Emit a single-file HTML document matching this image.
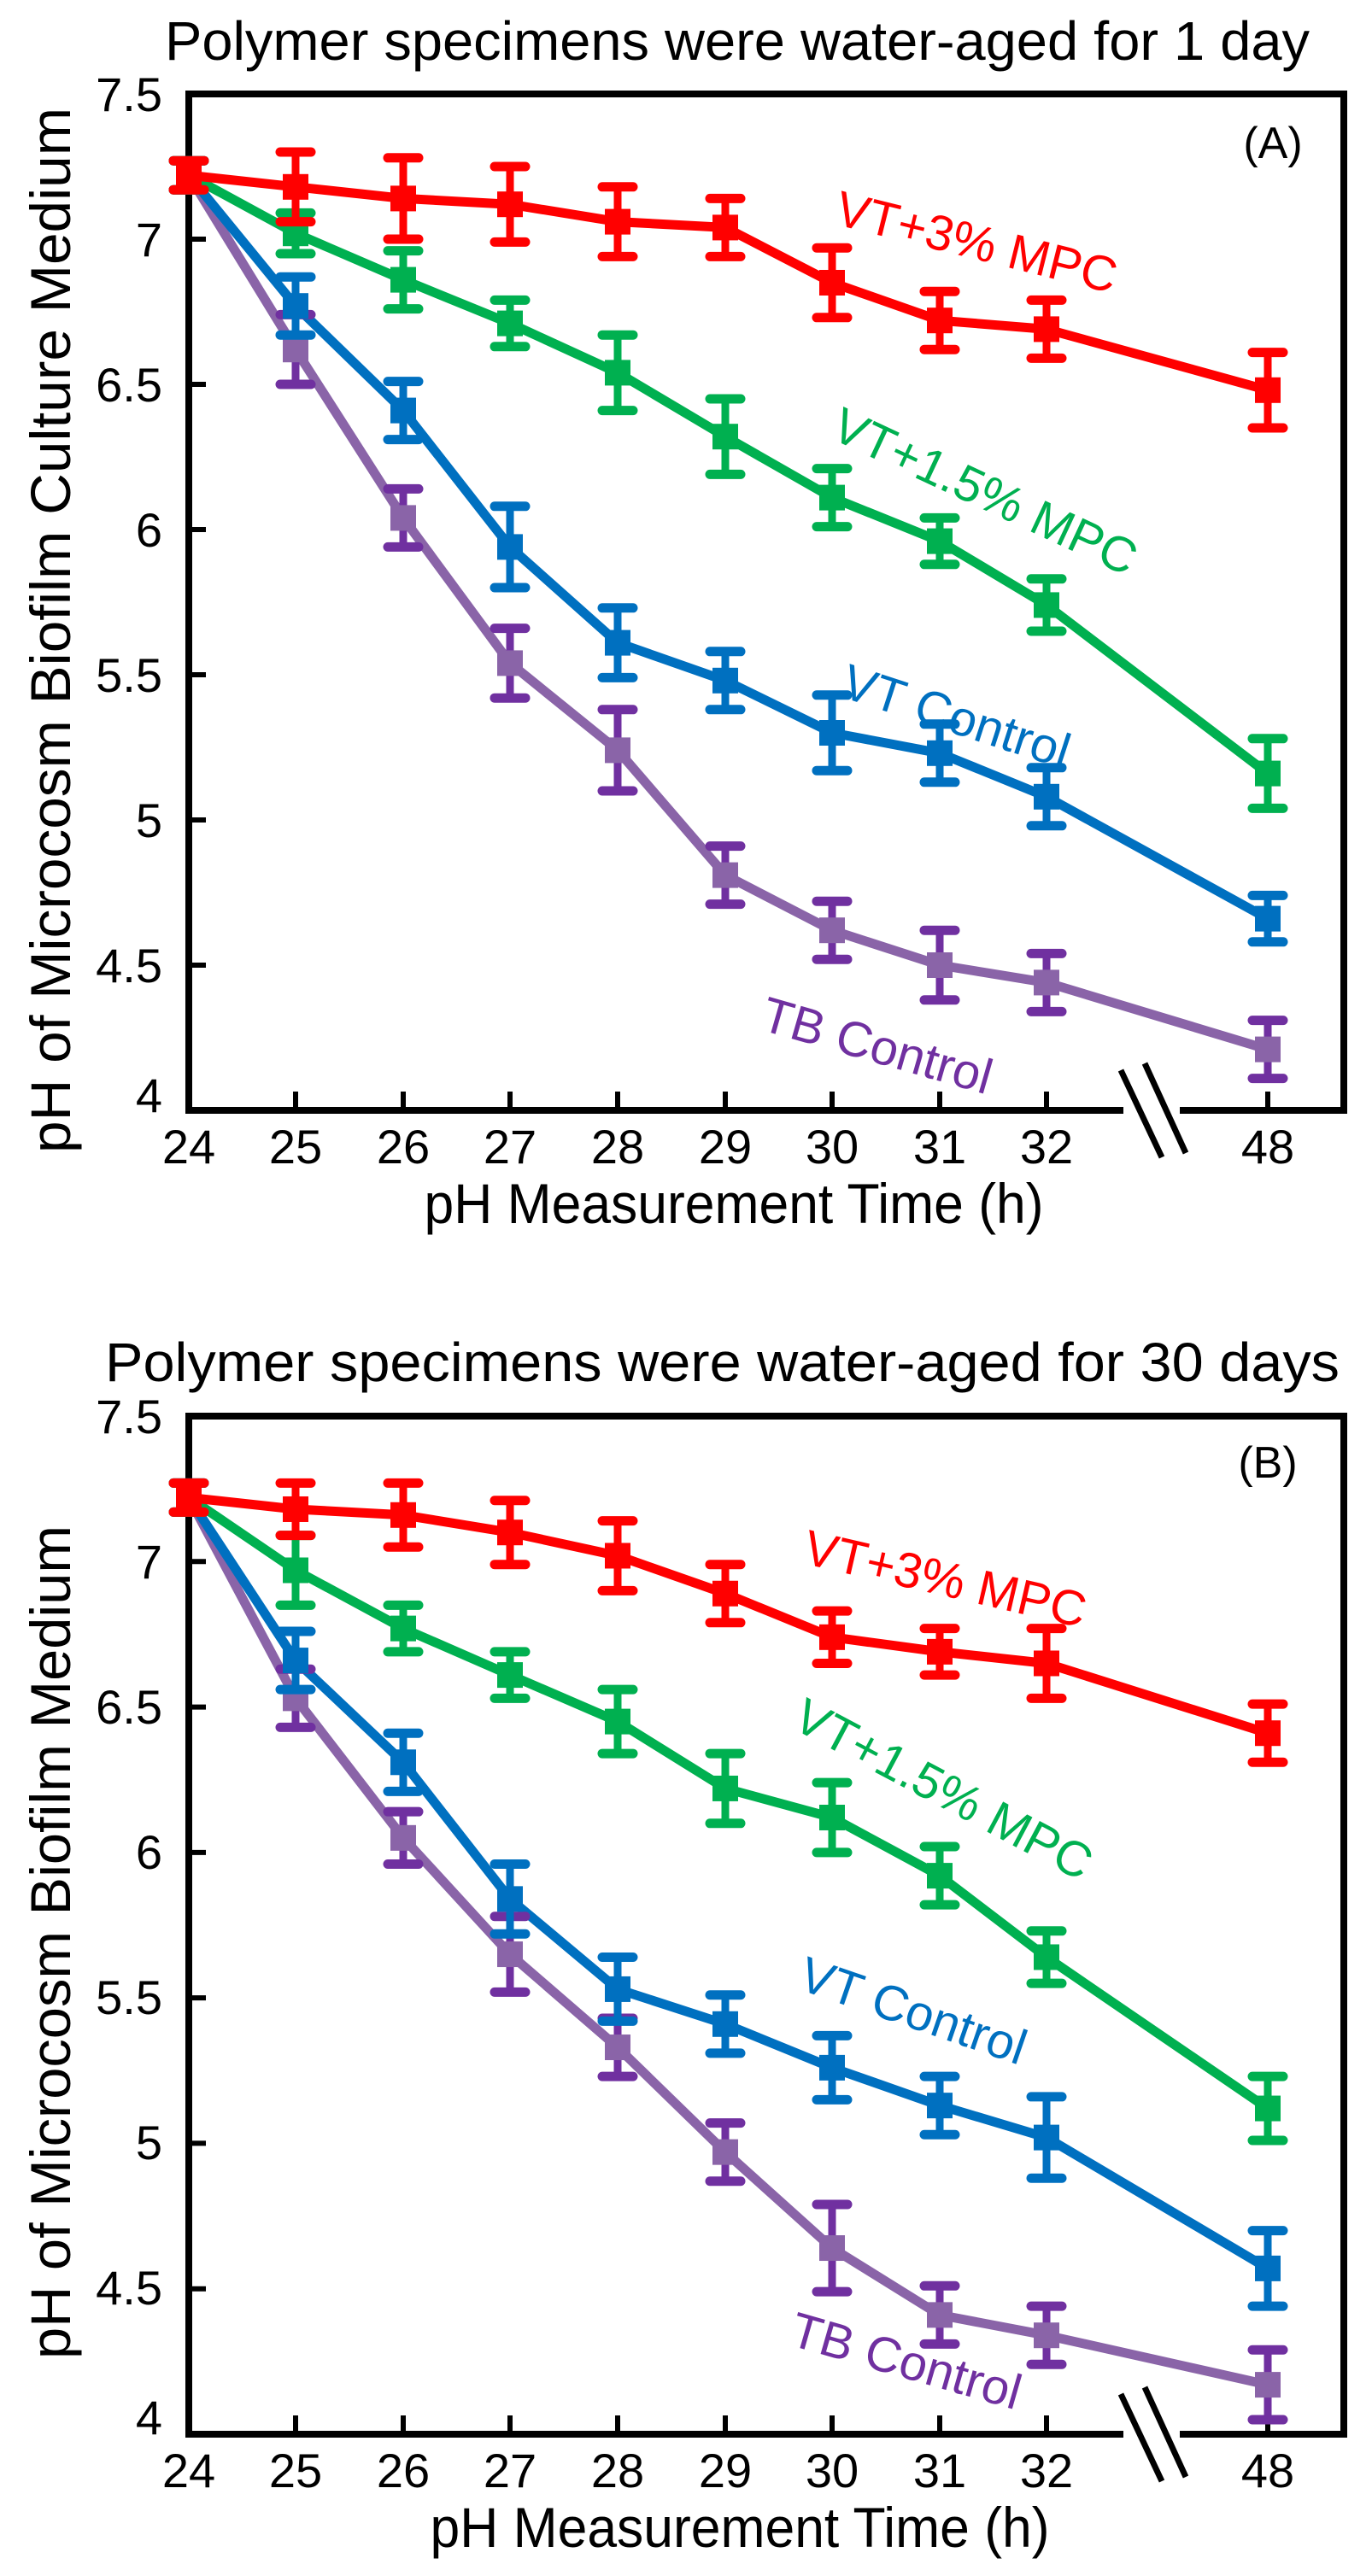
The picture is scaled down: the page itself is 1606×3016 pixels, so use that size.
<!DOCTYPE html>
<html><head><meta charset="utf-8"><style>
html,body{margin:0;padding:0;background:#fff}
svg{display:block}
text{font-family:"Liberation Sans",Arial,sans-serif}
</style></head><body>
<svg id="s" width="1606" height="3016" viewBox="0 0 1606 3016" xmlns="http://www.w3.org/2000/svg">
<g id="A" fill="#000">
<text x="193" y="70" font-size="64" textLength="1340" lengthAdjust="spacingAndGlyphs">Polymer specimens were water-aged for 1 day</text>
<text transform="translate(82,738) rotate(-90)" text-anchor="middle" font-size="66" textLength="1224" lengthAdjust="spacingAndGlyphs">pH of Microcosm Biofilm Culture Medium</text>
<text x="1490" y="185" text-anchor="middle" font-size="52">(A)</text>
<text x="859" y="1432" text-anchor="middle" font-size="66" textLength="725" lengthAdjust="spacingAndGlyphs">pH Measurement Time (h)</text>
<text transform="translate(975,262) rotate(14)" font-size="58" style="fill:#ff0000">VT+3% MPC</text>
<text transform="translate(970,512) rotate(25)" font-size="58" style="fill:#00b050">VT+1.5% MPC</text>
<text transform="translate(982,815) rotate(18)" font-size="58" style="fill:#0070c0">VT Control</text>
<text transform="translate(888,1205) rotate(16)" font-size="58" style="fill:#7030a0">TB Control</text>
</g>
<g id="B" fill="#000">
<text x="123" y="1617" font-size="64" textLength="1445" lengthAdjust="spacingAndGlyphs">Polymer specimens were water-aged for 30 days</text>
<text transform="translate(82,2274) rotate(-90)" text-anchor="middle" font-size="66" textLength="976" lengthAdjust="spacingAndGlyphs">pH of Microcosm Biofilm Medium</text>
<text x="1484" y="1730" text-anchor="middle" font-size="52">(B)</text>
<text x="866" y="2982" text-anchor="middle" font-size="66" textLength="725" lengthAdjust="spacingAndGlyphs">pH Measurement Time (h)</text>
<text transform="translate(938,1830) rotate(13)" font-size="58" style="fill:#ff0000">VT+3% MPC</text>
<text transform="translate(925,2022) rotate(28)" font-size="58" style="fill:#00b050">VT+1.5% MPC</text>
<text transform="translate(932,2328) rotate(19)" font-size="58" style="fill:#0070c0">VT Control</text>
<text transform="translate(922,2745) rotate(16)" font-size="58" style="fill:#7030a0">TB Control</text>
</g>
<g id="ticksA" font-size="56" fill="#000">
<text x="190" y="130" text-anchor="end">7.5</text><text x="190" y="300" text-anchor="end">7</text>
<text x="190" y="470" text-anchor="end">6.5</text><text x="190" y="640" text-anchor="end">6</text>
<text x="190" y="810" text-anchor="end">5.5</text><text x="190" y="980" text-anchor="end">5</text>
<text x="190" y="1150" text-anchor="end">4.5</text><text x="190" y="1302" text-anchor="end">4</text>
<text x="221" y="1362" text-anchor="middle">24</text><text x="346" y="1362" text-anchor="middle">25</text>
<text x="472" y="1362" text-anchor="middle">26</text><text x="597" y="1362" text-anchor="middle">27</text>
<text x="723" y="1362" text-anchor="middle">28</text><text x="849" y="1362" text-anchor="middle">29</text>
<text x="974" y="1362" text-anchor="middle">30</text><text x="1100" y="1362" text-anchor="middle">31</text>
<text x="1225" y="1362" text-anchor="middle">32</text><text x="1484" y="1362" text-anchor="middle">48</text>
</g>
<g id="ticksB" font-size="56" fill="#000">
<text x="190" y="1678" text-anchor="end">7.5</text><text x="190" y="1848" text-anchor="end">7</text>
<text x="190" y="2018" text-anchor="end">6.5</text><text x="190" y="2188" text-anchor="end">6</text>
<text x="190" y="2358" text-anchor="end">5.5</text><text x="190" y="2528" text-anchor="end">5</text>
<text x="190" y="2698" text-anchor="end">4.5</text><text x="190" y="2850" text-anchor="end">4</text>
<text x="221" y="2912" text-anchor="middle">24</text><text x="346" y="2912" text-anchor="middle">25</text>
<text x="472" y="2912" text-anchor="middle">26</text><text x="597" y="2912" text-anchor="middle">27</text>
<text x="723" y="2912" text-anchor="middle">28</text><text x="849" y="2912" text-anchor="middle">29</text>
<text x="974" y="2912" text-anchor="middle">30</text><text x="1100" y="2912" text-anchor="middle">31</text>
<text x="1225" y="2912" text-anchor="middle">32</text><text x="1484" y="2912" text-anchor="middle">48</text>
</g>
</svg>
<script>
(function(){
var NS="http://www.w3.org/2000/svg",s=document.getElementById("s");
function el(t,a){var e=document.createElementNS(NS,t);for(var k in a)e.setAttribute(k,a[k]);s.appendChild(e);return e;}
var xs=[221,346,472,597,723,849,974,1100,1225,1484];
// [line, errorbar, marker]
var cols=[["#ff0000","#ff0000","#ff0000"],["#00b050","#00b050","#00b050"],["#0070c0","#0070c0","#0070c0"],["#8a64a8","#7030a0","#8a64a8"]];
var panels=[
 {top:110,bot:1300,data:[
  [7.22,7.18,7.14,7.12,7.06,7.04,6.85,6.72,6.69,6.48],
  [7.22,7.02,6.86,6.71,6.54,6.32,6.11,5.96,5.74,5.16],
  [7.22,6.77,6.41,5.94,5.61,5.48,5.30,5.23,5.08,4.66],
  [7.22,6.62,6.04,5.54,5.24,4.81,4.62,4.50,4.44,4.21]],
  err:[[0.05,0.12,0.14,0.13,0.12,0.1,0.12,0.1,0.1,0.13],
       [0.05,0.07,0.1,0.08,0.13,0.13,0.1,0.08,0.09,0.12],
       [0.05,0.1,0.1,0.14,0.12,0.1,0.13,0.1,0.1,0.08],
       [0.05,0.12,0.1,0.12,0.14,0.1,0.1,0.12,0.1,0.1]]},
 {top:1658,bot:2850,data:[
  [7.22,7.18,7.16,7.10,7.02,6.89,6.74,6.69,6.65,6.41],
  [7.22,6.97,6.77,6.61,6.45,6.22,6.12,5.92,5.64,5.12],
  [7.22,6.66,6.31,5.84,5.53,5.41,5.26,5.13,5.02,4.57],
  [7.22,6.53,6.05,5.65,5.33,4.97,4.64,4.41,4.34,4.17]],
  err:[[0.05,0.09,0.11,0.11,0.12,0.1,0.09,0.08,0.12,0.1],
       [0.05,0.12,0.08,0.08,0.11,0.12,0.12,0.1,0.09,0.11],
       [0.05,0.1,0.1,0.12,0.11,0.1,0.11,0.1,0.14,0.13],
       [0.05,0.1,0.09,0.13,0.1,0.1,0.15,0.1,0.1,0.12]]}];
panels.forEach(function(p){
 var L=221,R=1573,T=p.top,B=p.bot,k=(B-T)/3.5;
 function Y(v){return B-(v-4)*k;}
 for(var v=4.5;v<7.6;v+=0.5){var y=Y(v);el("line",{x1:L,y1:y,x2:L+20,y2:y,stroke:"#000","stroke-width":6});}
 xs.forEach(function(x){el("line",{x1:x,y1:B,x2:x,y2:B-22,stroke:"#000","stroke-width":6});});
 el("rect",{x:L,y:T,width:R-L,height:B-T,fill:"none",stroke:"#000","stroke-width":8});
 el("rect",{x:1315,y:B-4,width:66,height:8,fill:"#fff"});
 el("line",{x1:1312,y1:B-47,x2:1360,y2:B+55,stroke:"#000","stroke-width":7});
 el("line",{x1:1340,y1:B-55,x2:1388,y2:B+50,stroke:"#000","stroke-width":7});
 for(var si=3;si>=0;si--){
  var d=p.data[si],c=cols[si],pts=d.map(function(v,i){return xs[i]+","+Y(v);}).join(" ");
  el("polyline",{points:pts,fill:"none",stroke:c[0],"stroke-width":11,"stroke-linejoin":"round"});
 }
 for(var si=3;si>=0;si--){
  var d=p.data[si],c=cols[si];
  d.forEach(function(v,i){
   var x=xs[i],y=Y(v),e=p.err[si][i]*k;
   el("line",{x1:x,y1:y-e,x2:x,y2:y+e,stroke:c[1],"stroke-width":9});
   el("line",{x1:x-18,y1:y-e,x2:x+18,y2:y-e,stroke:c[1],"stroke-width":11,"stroke-linecap":"round"});
   el("line",{x1:x-18,y1:y+e,x2:x+18,y2:y+e,stroke:c[1],"stroke-width":11,"stroke-linecap":"round"});
   el("rect",{x:x-15,y:y-15,width:30,height:30,fill:c[2]});
  });
 }
});
})();
</script>
</body></html>
